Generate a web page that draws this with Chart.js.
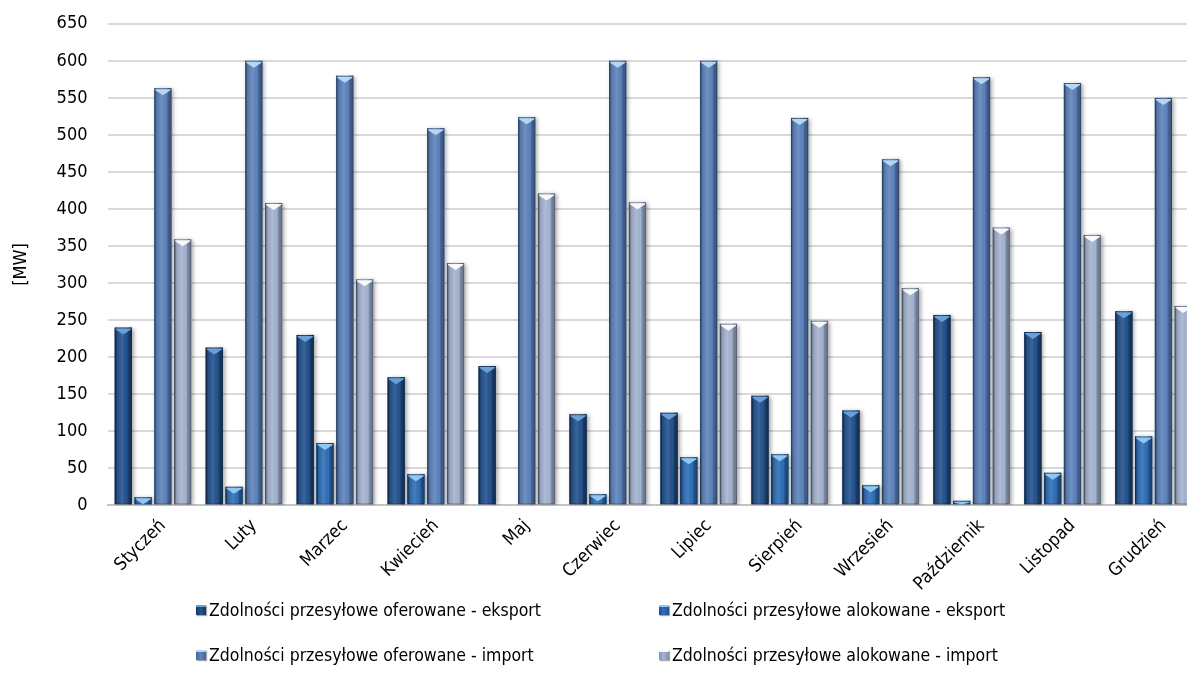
<!DOCTYPE html>
<html lang="pl">
<head>
<meta charset="utf-8">
<script src="https://cdn.jsdelivr.net/npm/chart.js@4.4.1/dist/chart.umd.min.js"></script>
<style>
  html, body { margin: 0; padding: 0; background: #fff; overflow: hidden; }
  #wrap { position: relative; width: 1200px; height: 693px; }
  #chartBox { position: absolute; left: 0; top: -7px; width: 1200px; height: 700px; }
  #legend { position: absolute; left: 0; top: 0; font: 17.5px 'DejaVu Sans Condensed', 'DejaVu Sans', sans-serif; color: #000; }
  .item { position: absolute; white-space: nowrap; display: flex; align-items: center; height: 20px; }
  .box { width: 10px; height: 8px; margin-right: 3px; box-shadow: 1px 1px 1px rgba(0,0,0,0.35); }
</style>
</head>
<body>
<div id="wrap">
  <div id="chartBox"><canvas id="capacityChart"></canvas></div>
  <div id="legend"></div>
</div>
<script>
const months = ['Styczeń', 'Luty', 'Marzec', 'Kwiecień', 'Maj', 'Czerwiec',
                'Lipiec', 'Sierpień', 'Wrzesień', 'Październik', 'Listopad', 'Grudzień'];

const offeredExport   = [240, 213, 230, 173, 188, 123, 125, 148, 128, 257, 234, 262];
const allocatedExport = [11, 25, 84, 42, 0, 15, 65, 69, 27, 6, 44, 93];
const offeredImport   = [563, 600, 580, 509, 524, 600, 600, 523, 467, 578, 570, 550];
const allocatedImport = [359, 408, 305, 327, 421, 409, 245, 249, 293, 375, 365, 269];

const seriesNames = [
  'Zdolności przesyłowe oferowane - eksport',
  'Zdolności przesyłowe alokowane - eksport',
  'Zdolności przesyłowe oferowane - import',
  'Zdolności przesyłowe alokowane - import'
];

const yTicks = { min: 0, max: 650, step: 50 };

// fill, edge shade and the light facet on top of each column
const palette = [
  { fill: '#25548f', edge: '#17375f', top: '#6a9fda' },
  { fill: '#3170b8', edge: '#1f4f8a', top: '#8fc6f3' },
  { fill: '#5f84bd', edge: '#43659a', top: '#b3d6f4' },
  { fill: '#a5b4d1', edge: '#7f8eab', top: '#f7f9fd' }
];

Chart.defaults.font.family = "'DejaVu Sans Condensed', 'DejaVu Sans', sans-serif";
Chart.defaults.font.size = 18;
Chart.defaults.color = '#000';

// soft shadow under the columns plus a bevelled face
const bevelPlugin = {
  id: 'bevel',
  beforeDatasetDraw(chart) {
    const ctx = chart.ctx;
    ctx.save();
    ctx.shadowColor = 'rgba(0,0,0,0.35)';
    ctx.shadowBlur = 4;
    ctx.shadowOffsetX = 2;
    ctx.shadowOffsetY = 1;
  },
  afterDatasetDraw(chart, args) {
    const ctx = chart.ctx;
    ctx.restore();
    const p = palette[args.index];
    args.meta.data.forEach(bar => {
      const { x, y, base, width } = bar.getProps(['x', 'y', 'base', 'width'], true);
      const h = base - y;
      if (h < 0.5) return;
      const left = x - width / 2, right = x + width / 2;
      const g = ctx.createLinearGradient(left, 0, right, 0);
      g.addColorStop(0, p.edge);
      g.addColorStop(0.12, 'rgba(0,0,0,0.12)');
      g.addColorStop(0.45, 'rgba(255,255,255,0.10)');
      g.addColorStop(0.7, 'rgba(0,0,0,0)');
      g.addColorStop(1, p.edge);
      ctx.save();
      ctx.fillStyle = g;
      ctx.fillRect(left, y, width, h);
      ctx.strokeStyle = 'rgba(0,0,0,0.25)';
      ctx.lineWidth = 1;
      ctx.strokeRect(left + 0.5, y + 0.5, width - 1, h - 1);
      // top facet
      const t = Math.min(7, h);
      ctx.beginPath();
      ctx.moveTo(left + 1, y + 1);
      ctx.lineTo(right - 1, y + 1);
      ctx.lineTo(right - 1, y + Math.min(2, t));
      ctx.lineTo(x, y + t);
      ctx.lineTo(left + 1, y + Math.min(2, t));
      ctx.closePath();
      ctx.fillStyle = p.top;
      ctx.fill();
      ctx.restore();
    });
  }
};

const values = [offeredExport, allocatedExport, offeredImport, allocatedImport];

const ctx = document.getElementById('capacityChart').getContext('2d');
const capacityChart = new Chart(ctx, {
  type: 'bar',
  data: {
    labels: months,
    datasets: values.map((data, i) => ({
      label: seriesNames[i],
      data: data,
      backgroundColor: palette[i].fill,
      borderWidth: 0,
      categoryPercentage: 0.87,
      barPercentage: 0.87
    }))
  },
  options: {
    responsive: true,
    maintainAspectRatio: false,
    animation: false,
    layout: { padding: { left: 11, right: 1, top: 1, bottom: 88 } },
    plugins: {
      legend: { display: false },
      tooltip: { enabled: false }
    },
    scales: {
      x: {
        grid: { display: false, drawTicks: false },
        border: { color: '#c4c4c4', width: 2 },
        ticks: { maxRotation: 45, minRotation: 45, padding: 10, labelOffset: 10 }
      },
      y: {
        min: yTicks.min,
        max: yTicks.max,
        ticks: { stepSize: yTicks.step, padding: 20 },
        grid: { color: '#d9d9d9', lineWidth: 2, drawTicks: false },
        border: { display: false },
        title: { display: true, text: '[MW]', padding: { top: 0, bottom: 4 } }
      }
    }
  },
  plugins: [bevelPlugin]
});

// two-column legend under the chart
const legendSlots = [[196, 600], [659, 600], [196, 645], [659, 645]];
const legendEl = document.getElementById('legend');
capacityChart.data.datasets.forEach((ds, i) => {
  const item = document.createElement('div');
  item.className = 'item';
  item.style.left = legendSlots[i][0] + 'px';
  item.style.top = legendSlots[i][1] + 'px';
  const box = document.createElement('span');
  box.className = 'box';
  box.style.background = `linear-gradient(90deg, ${palette[i].edge}, ${palette[i].fill} 45%, ${palette[i].edge})`;
  box.style.borderTop = `2px solid ${palette[i].top}`;
  const text = document.createElement('span');
  text.textContent = ds.label;
  item.appendChild(box);
  item.appendChild(text);
  legendEl.appendChild(item);
});
</script>
</body>
</html>
